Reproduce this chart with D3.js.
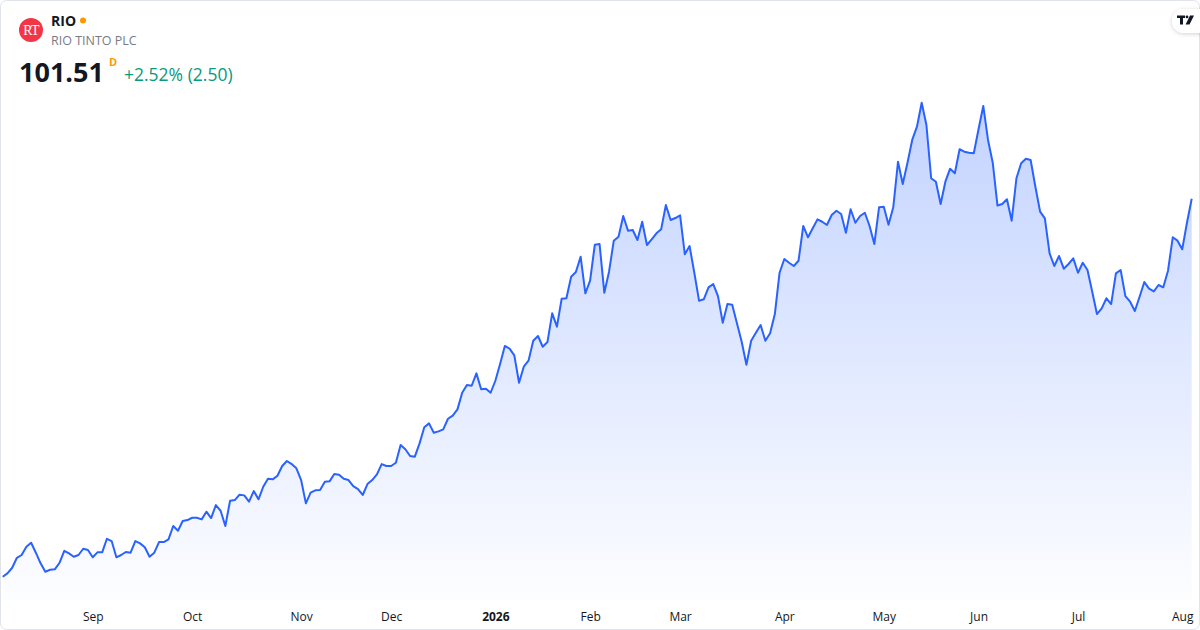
<!DOCTYPE html>
<html>
<head>
<meta charset="utf-8">
<script src="https://cdn.jsdelivr.net/npm/d3@7"></script>
<style>
  html, body { margin: 0; padding: 0; background: #ffffff; }
  svg { display: block; font-family: "Open Sans", "Noto Sans", sans-serif; }
</style>
</head>
<body>
<div id="chart"></div>
<script>
// Ticker info
const symbol = "RIO";
const companyName = "RIO TINTO PLC";
const interval = "D";

// Daily closes, Aug 5 2025 .. Aug 5 2026 (one value per trading session)
const closes = [
    62.14, 62.49, 63.07, 64.11, 64.40, 65.26, 65.68, 64.64, 63.53, 62.66,
    62.86, 62.91, 63.59, 64.84, 64.57, 64.22, 64.40, 65.05, 64.92, 64.16,
    64.68, 64.68, 66.09, 65.85, 64.16, 64.40, 64.71, 64.64, 65.85, 65.61,
    65.20, 64.22, 64.64, 65.75, 65.75, 66.03, 67.42, 66.93, 67.94, 68.04,
    68.28, 68.28, 68.11, 68.91, 68.25, 69.60, 69.01, 67.42, 70.05, 70.12,
    70.68, 70.61, 69.95, 71.06, 70.20, 71.51, 72.34, 72.28, 72.66, 73.67,
    74.19, 73.87, 73.43, 72.21, 69.78, 70.89, 71.14, 71.17, 72.03, 72.07,
    72.83, 72.76, 72.34, 72.21, 71.58, 71.27, 70.65, 71.79, 72.21, 72.80,
    73.87, 73.67, 73.67, 74.01, 75.85, 75.41, 74.71, 74.64, 76.03, 77.70,
    78.11, 77.14, 77.28, 77.49, 78.59, 78.91, 79.57, 81.30, 82.10, 82.03,
    83.32, 81.66, 81.72, 81.30, 82.55, 84.29, 86.17, 85.89, 85.20, 82.34,
    84.01, 84.64, 86.72, 87.21, 86.09, 86.58, 89.57, 88.18, 91.09, 91.14,
    93.39, 93.87, 95.47, 91.66, 92.97, 96.72, 96.79, 91.72, 93.91, 97.14,
    97.55, 99.71, 98.18, 98.25, 97.21, 99.11, 96.69, 97.28, 97.91, 98.32,
    100.85, 99.29, 99.50, 99.78, 95.72, 96.58, 93.80, 90.89, 91.03, 92.28,
    92.62, 91.37, 88.59, 90.54, 90.47, 88.53, 86.61, 84.22, 86.72, 87.55,
    88.35, 86.72, 87.49, 89.50, 93.80, 95.23, 94.84, 94.50, 95.05, 98.67,
    97.49, 98.43, 99.36, 99.11, 98.77, 99.81, 100.26, 99.92, 97.97, 100.41,
    99.01, 99.71, 100.05, 98.67, 96.79, 100.61, 100.68, 98.80, 100.61, 105.36,
    103.04, 105.26, 107.63, 109.01, 111.51, 109.19, 103.64, 103.28, 100.96, 103.28,
    104.64, 104.16, 106.66, 106.41, 106.30, 106.24, 108.74, 111.17, 107.63, 105.26,
    100.80, 100.96, 101.45, 99.22, 103.64, 105.20, 105.68, 105.54, 102.76, 100.16,
    99.47, 95.82, 94.50, 95.54, 94.22, 94.71, 95.30, 93.80, 94.84, 94.08,
    91.82, 89.50, 90.09, 91.14, 90.54, 93.74, 94.08, 91.37, 90.78, 89.81,
    91.30, 92.83, 92.14, 91.86, 92.52, 92.28, 94.01, 97.49, 97.14, 96.24,
    99.01, 101.51
];

// Month labels and the session index of the first trading day of each month
const tickLabels = ["Sep", "Oct", "Nov", "Dec", "2026", "Feb", "Mar", "Apr", "May", "Jun", "Jul", "Aug"];
const tickIndex = [19, 40, 63, 82, 104, 124, 143, 165, 186, 206, 227, 249];

const W = 1200, H = 630;
const plot = { left: 2.7, right: 1191.7, top: 102.7, bottom: 576.7, base: 600 };

const svg = d3.select("#chart")
    .append("svg")
    .attr("width", W)
    .attr("height", H);

const defs = svg.append("defs");

// Card background
svg.append("rect")
    .attr("x", 0.5).attr("y", 0.5)
    .attr("width", W - 1).attr("height", H - 1)
    .attr("rx", 6)
    .attr("fill", "#ffffff")
    .attr("stroke", "#e0e3eb");

// Scales
const x = d3.scaleLinear()
    .domain([0, closes.length - 1])
    .range([plot.left, plot.right]);

const y = d3.scaleLinear()
    .domain([d3.min(closes), d3.max(closes)])
    .range([plot.bottom, plot.top]);

// Area gradient
const grad = defs.append("linearGradient")
    .attr("id", "areaFill")
    .attr("gradientUnits", "userSpaceOnUse")
    .attr("x1", 0).attr("x2", 0)
    .attr("y1", plot.top).attr("y2", plot.base);
grad.append("stop").attr("offset", 0).attr("stop-color", "#2962ff").attr("stop-opacity", 0.28);
grad.append("stop").attr("offset", 1).attr("stop-color", "#2962ff").attr("stop-opacity", 0.01);

const area = d3.area()
    .x((d, i) => x(i))
    .y0(plot.base)
    .y1(d => y(d));

const line = d3.line()
    .x((d, i) => x(i))
    .y(d => y(d));

svg.append("path")
    .datum(closes)
    .attr("d", area)
    .attr("fill", "url(#areaFill)");

svg.append("path")
    .datum(closes)
    .attr("d", line)
    .attr("fill", "none")
    .attr("stroke", "#2962ff")
    .attr("stroke-width", 2)
    .attr("stroke-linejoin", "round");

// X axis (labels only)
const xAxis = d3.axisBottom(x)
    .tickValues(tickIndex)
    .tickFormat((d, i) => tickLabels[i])
    .tickSize(0)
    .tickPadding(0);

const axisG = svg.append("g")
    .attr("transform", "translate(0,612)")
    .call(xAxis);
axisG.select(".domain").remove();
axisG.selectAll("text")
    .attr("dy", "0.71em")
    .attr("fill", "#131722")
    .style("font-size", "12px")
    .style("font-family", "'Open Sans', sans-serif")
    .style("font-weight", (d, i) => /^\d+$/.test(tickLabels[i]) ? "700" : "400");

// Header: logo, ticker, name
svg.append("circle")
    .attr("cx", 31).attr("cy", 30).attr("r", 12)
    .attr("fill", "#f23645");
svg.append("text")
    .attr("x", 31).attr("y", 35)
    .attr("text-anchor", "middle")
    .attr("fill", "#ffffff")
    .style("font-family", "'Liberation Serif', 'DejaVu Serif', serif")
    .style("font-size", "14px")
    .style("letter-spacing", "-0.8px")
    .text("RT");

svg.append("text")
    .attr("x", 51).attr("y", 26)
    .attr("fill", "#131722")
    .style("font-size", "14px")
    .style("font-weight", "700")
    .text(symbol);
svg.append("circle")
    .attr("cx", 83).attr("cy", 20.5).attr("r", 3)
    .attr("fill", "#ff9800");

svg.append("text")
    .attr("x", 51).attr("y", 45)
    .attr("fill", "#787b86")
    .style("font-size", "12.5px")
    .text(companyName);

// Last price and change
const last = closes[closes.length - 1];
const prev = closes[closes.length - 2];
const chg = last - prev;
const pct = chg / prev * 100;

svg.append("text")
    .attr("x", 19).attr("y", 82)
    .attr("fill", "#131722")
    .style("font-size", "27px")
    .style("font-weight", "700")
    .text(last.toFixed(2));

svg.append("text")
    .attr("x", 109).attr("y", 66)
    .attr("fill", "#ff9800")
    .style("font-size", "11px")
    .style("font-weight", "700")
    .text(interval);

svg.append("text")
    .attr("x", 124).attr("y", 81)
    .attr("fill", "#089981")
    .style("font-size", "17.5px")
    .text((chg >= 0 ? "+" : "") + pct.toFixed(2) + "% (" + chg.toFixed(2) + ")");

// TradingView badge (top right)
const shadow = defs.append("filter").attr("id", "badgeShadow")
    .attr("x", "-50%").attr("y", "-50%").attr("width", "200%").attr("height", "200%");
shadow.append("feDropShadow")
    .attr("dx", 0).attr("dy", 1).attr("stdDeviation", 2)
    .attr("flood-color", "#000000").attr("flood-opacity", 0.18);

svg.append("rect")
    .attr("x", 1172).attr("y", 9)
    .attr("width", 44).attr("height", 24)
    .attr("rx", 12)
    .attr("fill", "#ffffff")
    .attr("filter", "url(#badgeShadow)");

const tv = svg.append("g").attr("fill", "#131722");
tv.append("path").attr("d", "M1177,15.5 H1185 V18 H1183 V24.5 H1180 V18 H1177 Z");
tv.append("circle").attr("cx", 1187).attr("cy", 16.9).attr("r", 1.4);
tv.append("path").attr("d", "M1190,15.5 H1194 L1189.5,24.5 H1185.6 Z");
</script>
</body>
</html>
